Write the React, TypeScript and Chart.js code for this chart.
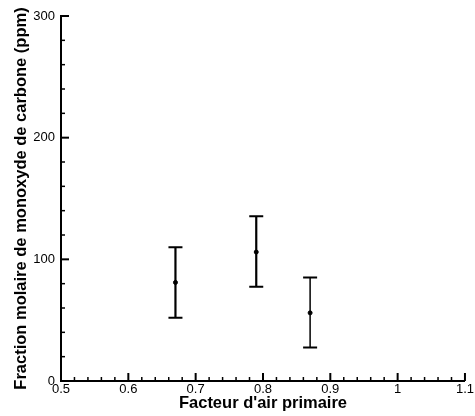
import React, { useEffect, useRef } from "react";
import { Chart, registerables } from "chart.js";

Chart.register(...registerables);

// Data
const airFactor = [0.67, 0.79, 0.87];
const coMean = [81, 106, 56];
const coLow = [52, 77.5, 27.5];
const coHigh = [110, 135.5, 85];

const xTicksRange = { min: 0.5, max: 1.1, step: 0.1 };
const yTicksRange = { min: 0, max: 300, step: 100 };

const xTitle = "Facteur d'air primaire";
const yTitle = "Fraction molaire de monoxyde de carbone (ppm)";

const FONT = "'Liberation Sans', Arial, Helvetica, sans-serif";

const inwardTicks = {
  id: "inwardTicks",
  afterDraw(chart: any) {
    const { ctx, chartArea } = chart;
    const xs = chart.scales.x;
    const ys = chart.scales.y;
    ctx.save();
    ctx.strokeStyle = "#000";
    const draw = (scale: any, horizontal: boolean) => {
      const vals = scale.ticks.map((t: any) => t.value);
      for (let i = 0; i < vals.length; i++) {
        const p = scale.getPixelForValue(vals[i]);
        ctx.lineWidth = 2;
        ctx.beginPath();
        if (horizontal) {
          ctx.moveTo(p, chartArea.bottom);
          ctx.lineTo(p, chartArea.bottom - 8);
        } else {
          ctx.moveTo(chartArea.left, p);
          ctx.lineTo(chartArea.left + 8, p);
        }
        ctx.stroke();
        if (i < vals.length - 1) {
          for (let k = 1; k < 5; k++) {
            const v = vals[i] + ((vals[i + 1] - vals[i]) * k) / 5;
            const q = scale.getPixelForValue(v);
            ctx.lineWidth = 1.5;
            ctx.beginPath();
            if (horizontal) {
              ctx.moveTo(q, chartArea.bottom);
              ctx.lineTo(q, chartArea.bottom - 4);
            } else {
              ctx.moveTo(chartArea.left, q);
              ctx.lineTo(chartArea.left + 4, q);
            }
            ctx.stroke();
          }
        }
      }
    };
    draw(xs, true);
    draw(ys, false);
    ctx.restore();
  },
};

const errorBars = {
  id: "errorBars",
  afterDatasetsDraw(chart: any) {
    const { ctx } = chart;
    const xs = chart.scales.x;
    const ys = chart.scales.y;
    ctx.save();
    ctx.strokeStyle = "#000";
    for (let i = 0; i < airFactor.length; i++) {
      const x = xs.getPixelForValue(airFactor[i]);
      const yl = ys.getPixelForValue(coLow[i]);
      const yh = ys.getPixelForValue(coHigh[i]);
      ctx.lineWidth = i === 2 ? 1.5 : 2.2;
      ctx.beginPath();
      ctx.moveTo(x, yl);
      ctx.lineTo(x, yh);
      ctx.stroke();
      ctx.lineWidth = 2;
      ctx.beginPath();
      ctx.moveTo(x - 7, yl);
      ctx.lineTo(x + 7, yl);
      ctx.moveTo(x - 7, yh);
      ctx.lineTo(x + 7, yh);
      ctx.stroke();
    }
    ctx.restore();
  },
};

export default function App() {
  const ref = useRef<HTMLCanvasElement | null>(null);
  useEffect(() => {
    if (!ref.current) return;
    const chart = new Chart(ref.current, {
      type: "scatter",
      data: {
        datasets: [
          {
            data: airFactor.map((x, i) => ({ x, y: coMean[i] })),
            pointRadius: 2,
            pointBackgroundColor: "#000",
            pointBorderColor: "#000",
            showLine: false,
          },
        ],
      },
      options: {
        responsive: false,
        animation: false,
        layout: { padding: { top: 16, right: 8, left: 0, bottom: 0 } },
        plugins: { legend: { display: false }, tooltip: { enabled: false } },
        scales: {
          x: {
            type: "linear",
            min: xTicksRange.min,
            max: xTicksRange.max,
            grid: { display: false, drawTicks: false },
            border: { display: true, color: "#000", width: 2 },
            ticks: {
              stepSize: xTicksRange.step,
              color: "#000",
              padding: 1,
              maxRotation: 0,
              autoSkip: false,
              font: { family: FONT, size: 13 },
              callback: (v: any) => String(Number(Number(v).toFixed(1))),
            },
            title: {
              display: true,
              text: xTitle,
              color: "#000",
              padding: { top: 3, bottom: 3 },
              font: { family: FONT, size: 16.5, weight: "bold" },
            },
            afterFit: (s: any) => {
              s.height = 35;
            },
          },
          y: {
            type: "linear",
            min: yTicksRange.min,
            max: yTicksRange.max,
            grid: { display: false, drawTicks: false },
            border: { display: true, color: "#000", width: 2 },
            ticks: {
              stepSize: yTicksRange.step,
              color: "#000",
              padding: 6,
              autoSkip: false,
              font: { family: FONT, size: 13 },
            },
            title: {
              display: true,
              text: yTitle,
              color: "#000",
              padding: { top: 12, bottom: 12 },
              font: { family: FONT, size: 16.5, weight: "bold" },
            },
            afterFit: (s: any) => {
              s.width = 61;
            },
          },
        },
      },
      plugins: [inwardTicks, errorBars],
    } as any);
    return () => chart.destroy();
  }, []);
  return (
    <div style={{ position: "fixed", left: 0, top: 0, width: 475, height: 416, background: "#fff" }}>
      <canvas ref={ref} width={475} height={416} style={{ width: 475, height: 416, display: "block" }} />
    </div>
  );
}
